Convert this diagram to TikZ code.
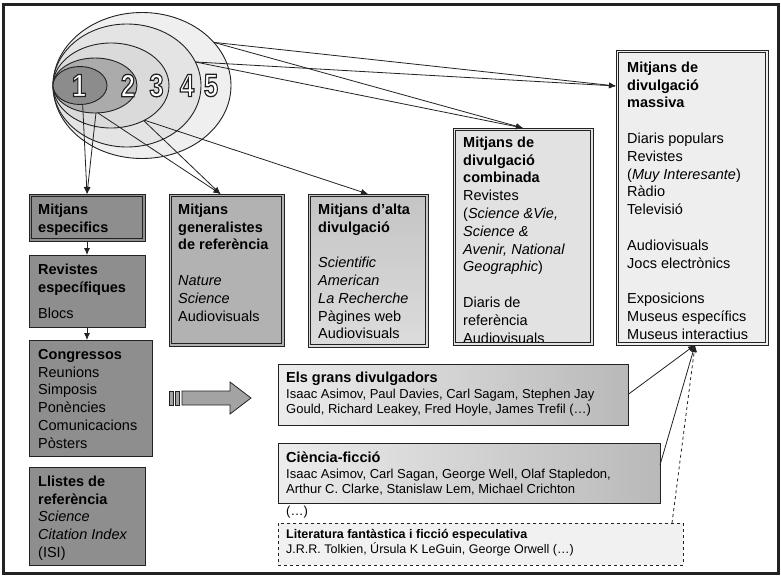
\documentclass[tikz,border=0pt]{standalone}
\usepackage{fontspec}
\setmainfont{Liberation Sans}
\usetikzlibrary{arrows.meta,shapes.geometric,calc}
\definecolor{cDark}{HTML}{8E8E8E}
\definecolor{cGen}{HTML}{B2B2B2}
\definecolor{cAltaA}{HTML}{C4C4C4}
\definecolor{cAltaB}{HTML}{DCDCDC}
\definecolor{cComb}{HTML}{E2E2E2}
\definecolor{cMass}{HTML}{EEEEEE}
\definecolor{cGradL}{HTML}{ECECEC}
\definecolor{cGradR}{HTML}{B9B9B9}
\definecolor{cLit}{HTML}{F1F1F1}
\definecolor{cE1}{HTML}{8C8C8C}
\definecolor{cE2}{HTML}{ABABAB}
\definecolor{cE3}{HTML}{DADADA}
\definecolor{cE4}{HTML}{E4E4E4}
\definecolor{cE5}{HTML}{EFEFEF}
\definecolor{cLine}{HTML}{222222}
\definecolor{cArrow}{HTML}{A3A3A3}
\newcommand\outnum[3]{%
  \node[num] (#1) at (#2) {\color{white}\special{pdf:code q 0.13 0.13 0.13 RG 1.3 w 2 Tr}\scalebox{0.8}[1]{#3}\special{pdf:code 0 Tr Q}};
}
\newcommand\dbl[1]{%
  \draw[line width=0.6pt, draw=cLine] ([shift={(2.6pt,-2.6pt)}]#1.north west) rectangle ([shift={(-2.6pt,2.6pt)}]#1.south east);
}
\begin{document}
\begin{tikzpicture}[x=1pt,y=-1pt,
  dbox/.style={draw=cLine, line width=0.7pt, inner sep=0, outer sep=0, anchor=north west},
  sbox/.style={draw=cLine, line width=0.9pt, inner sep=0, outer sep=0, anchor=north west},
  txt/.style={anchor=north west, inner sep=0, align=left, font=\fontsize{14.5}{17.8}\selectfont},
  stxt/.style={anchor=north west, inner sep=0, align=left, font=\fontsize{13}{15}\selectfont},
  ltxt/.style={anchor=north west, inner sep=0, align=left, font=\fontsize{12.5}{15}\selectfont},
  arr/.style={-{Latex[length=7pt,width=6pt]}, line width=0.8pt, draw=cLine},
  ell/.style={ellipse, draw=cLine, line width=0.9pt, inner sep=0, outer sep=0},
  num/.style={font=\fontsize{32}{32}\selectfont\bfseries, inner sep=0}
]
\useasboundingbox (0,0) rectangle (781,576);
\fill[white] (0,0) rectangle (781,576);
\draw[line width=3pt, cLine] (3,4) rectangle (778,573);

% ellipses
\node[ell, fill=cE5, minimum width=178pt, minimum height=146pt] (e5) at (142,85.5) {};
\node[ell, fill=cE4, minimum width=148pt, minimum height=123pt] (e4) at (127,85.5) {};
\node[ell, fill=cE3, minimum width=116pt, minimum height=85pt] (e3) at (111,85.5) {};
\node[ell, fill=cE2, minimum width=84pt, minimum height=55pt] (e2) at (95,85.5) {};
\node[ell, fill=cE1, minimum width=54pt, minimum height=38pt] (e1) at (80,85.5) {};
\coordinate (p1) at (79,85.5);
\coordinate (p2) at (128,85.5);
\coordinate (p3) at (156.5,85.5);
\coordinate (p4) at (187,85.5);
\coordinate (p5) at (211,85.5);
\outnum{n1}{p1}{1}
\outnum{n2}{p2}{2}
\outnum{n3}{p3}{3}
\outnum{n4}{p4}{4}
\outnum{n5}{p5}{5}

% boxes
\node[dbox, fill=cDark, minimum width=116pt, minimum height=47pt] (esp) at (29,194) {};
\node[sbox, fill=cDark, minimum width=116pt, minimum height=72pt] (rev) at (29,255) {};
\node[sbox, fill=cDark, minimum width=123pt, minimum height=116pt] (cong) at (29,340) {};
\node[sbox, fill=cDark, minimum width=116pt, minimum height=98pt] (llis) at (29,467) {};
\node[dbox, fill=cGen, minimum width=115pt, minimum height=152pt] (gen) at (169,194) {};
\node[dbox, top color=cAltaA, bottom color=cAltaB, minimum width=120pt, minimum height=153pt] (alta) at (308,194) {};
\node[dbox, fill=cComb, minimum width=140pt, minimum height=217pt] (comb) at (453,128) {};
\node[dbox, fill=cMass, minimum width=152pt, minimum height=295pt] (mass) at (616,50) {};
\node[sbox, left color=cGradL, right color=cGradR, minimum width=350pt, minimum height=61pt] (grans) at (278,364) {};
\node[sbox, left color=cGradL, right color=cGradR, minimum width=382pt, minimum height=60pt] (cf) at (278,443) {};
\node[sbox, dashed, line width=0.8pt, fill=cLit, minimum width=405pt, minimum height=42pt] (lit) at (278,523) {};
\dbl{esp}
\dbl{gen}
\dbl{alta}
\dbl{comb}
\dbl{mass}

% texts
\node[txt] (esp-t) at (38,200) {\rule{0pt}{14pt}\textbf{Mitjans}\\\textbf{especifics}};
\node[txt] (rev-t) at (38,260) {\rule{0pt}{14pt}\textbf{Revistes}\\\textbf{específiques}\\[9pt]Blocs};
\node[txt] (cong-t) at (38,345) {\rule{0pt}{14pt}\textbf{Congressos}\\Reunions\\Simposis\\Ponències\\Comunicacions\\Pòsters};
\node[txt] (llis-t) at (38,472) {\rule{0pt}{14pt}\textbf{Llistes de}\\\textbf{referència}\\\textit{Science}\\\textit{Citation Index}\\(ISI)};
\node[txt] (gen-t) at (178,200) {\rule{0pt}{14pt}\textbf{Mitjans}\\\textbf{generalistes}\\\textbf{de referència}\\[17.8pt]\textit{Nature}\\\textit{Science}\\Audiovisuals};
\node[txt] (alta-t) at (318,200) {\rule{0pt}{14pt}\textbf{Mitjans d’alta}\\\textbf{divulgació}\\[17.8pt]\textit{Scientific}\\\textit{American}\\\textit{La Recherche}\\Pàgines web\\Audiovisuals};
\begin{scope}
\clip (comb.north west) rectangle ([yshift=3.2pt]comb.south east);
\node[txt] (comb-t) at (463,133) {\rule{0pt}{14pt}\textbf{Mitjans de}\\\textbf{divulgació}\\\textbf{combinada}\\Revistes\\(\textit{Science \&Vie,}\\\textit{Science \&}\\\textit{Avenir, National}\\\textit{Geographic})\\[17.8pt]Diaris de\\referència\\Audiovisuals};
\end{scope}
\node[txt] (mass-t) at (627,58) {\rule{0pt}{14pt}\textbf{Mitjans de}\\\textbf{divulgació}\\\textbf{massiva}\\[17.8pt]Diaris populars\\Revistes\\(\textit{Muy Interesante})\\Ràdio\\Televisió\\[17.8pt]Audiovisuals\\Jocs electrònics\\[17.8pt]Exposicions\\Museus específics\\Museus interactius};

\node[txt] (grans-h) at (286,368) {\rule{0pt}{14pt}\textbf{Els grans divulgadors}};
\node[stxt] (grans-t) at (286,386) {\rule{0pt}{12pt}Isaac Asimov, Paul Davies, Carl Sagam, Stephen Jay\\Gould, Richard Leakey, Fred Hoyle, James Trefil (…)};
\node[txt] (cf-h) at (286,448) {\rule{0pt}{14pt}\textbf{Ciència-ficció}};
\node[stxt] (cf-t) at (286,466) {\rule{0pt}{12pt}Isaac Asimov, Carl Sagan, George Well, Olaf Stapledon,\\Arthur C. Clarke, Stanislaw Lem, Michael Crichton};
\node[stxt] (cf-e) at (286,503) {\rule{0pt}{12pt}(…)};
\node[ltxt] (lit-h) at (286,526) {\rule{0pt}{12pt}\textbf{Literatura fantàstica i ficció especulativa}};
\node[ltxt] (lit-t) at (286,541) {\rule{0pt}{12pt}J.R.R. Tolkien, Úrsula K LeGuin, George Orwell (…)};

% block arrow
\draw[cLine, line width=0.8pt, fill=cArrow] (182,391) -- (230,391) -- (230,382) -- (251,398) -- (230,414) -- (230,405) -- (182,405) -- cycle;
\draw[cLine, line width=0.8pt, fill=cArrow] (169,391) rectangle (173,405);
\draw[cLine, line width=0.8pt, fill=cArrow] (175,391) rectangle (179,405);

% connectors
\draw[arr] (e1.-82) -- (esp.north);
\draw[arr] (e2.-88) -- (esp.north);
\draw[arr] (e2.-84) -- ([xshift=-6pt]gen.north);
\draw[arr] (e3.-47) -- ([xshift=-6pt]gen.north);
\draw[arr] (e3.-46) -- (alta.north);
\draw[arr] (e4.19) -- (comb.north);
\draw[arr] (e5.31) -- (comb.north);
\draw[arr] (e4.19) -- ([yshift=-36pt]mass.north west);
\draw[arr] (e5.31) -- ([yshift=-36pt]mass.north west);
\draw[arr] (esp.south) -- (rev.north);
\draw[arr] (rev.south) -- (rev.south |- cong.north);
\draw[arr] (grans.east) -- ([xshift=3pt]mass.south);
\draw[arr] ([yshift=8pt]cf.east) -- ([xshift=3pt]mass.south);
\draw[arr, dashed] ([xshift=-11pt]lit.north east) -- ([xshift=3pt]mass.south);
\end{tikzpicture}
\end{document}
